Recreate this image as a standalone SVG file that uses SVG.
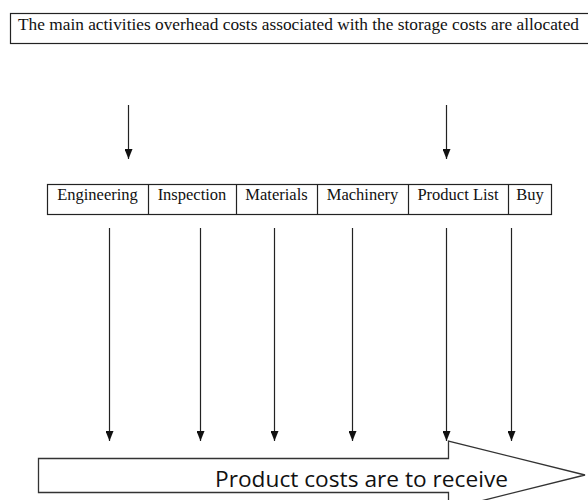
<svg xmlns="http://www.w3.org/2000/svg" width="588" height="500" viewBox="0 0 588 500">
<defs>
<marker id="ah" viewBox="0 0 10 8" refX="10" refY="4" markerWidth="10" markerHeight="8" markerUnits="userSpaceOnUse" orient="auto">
<path d="M0,0 L10,4 L0,8 Z" fill="#111"/>
</marker>
<style>
.box{fill:#fff;stroke:#222;stroke-width:1.2}
.serif{font-family:"Liberation Serif","Times New Roman",serif;font-size:16.5px;fill:#111}
.cell{text-anchor:middle}
.conn line{stroke:#222;stroke-width:1.2}
.sans{font-family:"Open Sans","Liberation Sans",sans-serif;font-size:22px;fill:#111}
</style>
</defs>
<rect width="588" height="500" fill="#fff"/>
<g id="header">
<rect class="box" x="10.5" y="13.5" width="600" height="30"/>
<text class="serif" x="18" y="30" textLength="561" lengthAdjust="spacingAndGlyphs">The main activities overhead costs associated with the storage costs are allocated</text>
</g>
<g id="activities">
<rect class="box" x="47.5" y="184.5" width="504" height="30"/>
<line class="box" x1="148.5" y1="184.5" x2="148.5" y2="214.5"/>
<line class="box" x1="236.5" y1="184.5" x2="236.5" y2="214.5"/>
<line class="box" x1="317.5" y1="184.5" x2="317.5" y2="214.5"/>
<line class="box" x1="408.5" y1="184.5" x2="408.5" y2="214.5"/>
<line class="box" x1="508.5" y1="184.5" x2="508.5" y2="214.5"/>
<g id="engineering"><text class="serif cell" x="97.5" y="200">Engineering</text></g>
<g id="inspection"><text class="serif cell" x="192" y="200">Inspection</text></g>
<g id="materials"><text class="serif cell" x="276.5" y="200">Materials</text></g>
<g id="machinery"><text class="serif cell" x="362.5" y="200">Machinery</text></g>
<g id="productlist"><text class="serif cell" x="458" y="200">Product List</text></g>
<g id="buy"><text class="serif cell" x="530" y="200">Buy</text></g>
</g>
<g id="result">
<path d="M38.5,458.5 L448.5,458.5 L448.5,441 L585,475 L448.5,509 L448.5,492.5 L38.5,492.5 Z" fill="#fff" stroke="#333" stroke-width="1.3"/>
<text class="sans" x="215" y="487" textLength="293" lengthAdjust="spacingAndGlyphs">Product costs are to receive</text>
</g>
<g class="conn" id="connectors">
<line x1="128.5" y1="105" x2="128.5" y2="159" marker-end="url(#ah)"/>
<line x1="446.5" y1="105" x2="446.5" y2="159" marker-end="url(#ah)"/>
<line x1="109.5" y1="228" x2="109.5" y2="441" marker-end="url(#ah)"/>
<line x1="200.5" y1="228" x2="200.5" y2="441" marker-end="url(#ah)"/>
<line x1="274.5" y1="228" x2="274.5" y2="441" marker-end="url(#ah)"/>
<line x1="352.5" y1="228" x2="352.5" y2="441" marker-end="url(#ah)"/>
<line x1="446.5" y1="228" x2="446.5" y2="441" marker-end="url(#ah)"/>
<line x1="511.5" y1="228" x2="511.5" y2="441" marker-end="url(#ah)"/>
</g>
</svg>
